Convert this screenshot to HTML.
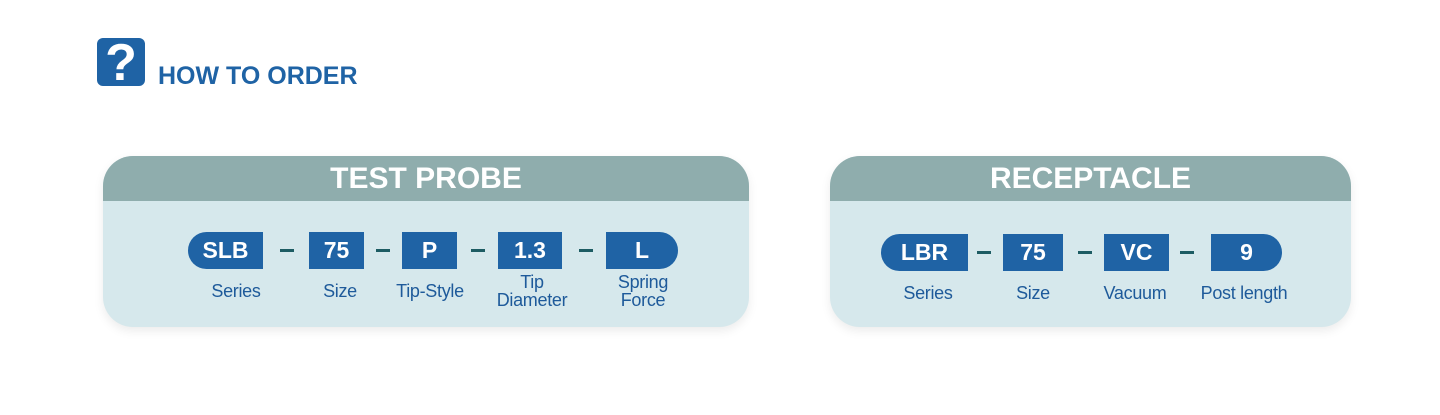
<!DOCTYPE html>
<html><head><meta charset="utf-8"><style>
body{margin:0;width:1440px;height:415px;background:#fff;position:relative;overflow:hidden;font-family:"Liberation Sans",sans-serif}
.a{position:absolute}
.card{position:absolute;border-radius:30px;background:#d6e8ec;overflow:hidden;box-shadow:0 4px 10px rgba(0,0,0,.08)}
.hd{position:absolute;left:0;right:0;top:0;height:45px;background:#8fadad;color:#fff;font-weight:bold;font-size:30px;text-align:center;line-height:46px}
.b{position:absolute;background:#1f63a5;color:#fff;font-size:23px;font-weight:bold;text-align:center;line-height:37px;height:37px}
.d{position:absolute;height:3px;width:14px;background:#1d5c63}
.l{position:absolute;color:#1e5a9a;font-size:18px;text-align:center;line-height:18px;width:120px;letter-spacing:-0.3px}
</style></head><body>
<div class="a" style="left:97px;top:38px;width:48px;height:48px;background:#1f63a5;border-radius:6px;color:#fff;font-weight:bold;font-size:52px;line-height:50px;text-align:center">?</div>
<div class="a" style="left:158px;top:62px;color:#1f63a5;font-weight:bold;font-size:25px;line-height:28px">HOW TO ORDER</div>

<div class="card" style="left:103px;top:156px;width:646px;height:171px"><div class="hd">TEST PROBE</div></div>
<div class="b" style="left:188px;top:232px;width:75px;border-radius:19px 0 0 19px">SLB</div>
<div class="d" style="left:280px;top:249px"></div>
<div class="b" style="left:309px;top:232px;width:55px">75</div>
<div class="d" style="left:376px;top:249px"></div>
<div class="b" style="left:402px;top:232px;width:55px">P</div>
<div class="d" style="left:471px;top:249px"></div>
<div class="b" style="left:498px;top:232px;width:64px">1.3</div>
<div class="d" style="left:579px;top:249px"></div>
<div class="b" style="left:606px;top:232px;width:72px;border-radius:0 19px 19px 0">L</div>
<div class="l" style="left:176px;top:282px">Series</div>
<div class="l" style="left:280px;top:282px">Size</div>
<div class="l" style="left:370px;top:282px">Tip-Style</div>
<div class="l" style="left:472px;top:273px">Tip<br>Diameter</div>
<div class="l" style="left:583px;top:273px">Spring<br>Force</div>

<div class="card" style="left:830px;top:156px;width:521px;height:171px"><div class="hd">RECEPTACLE</div></div>
<div class="b" style="left:881px;top:234px;width:87px;border-radius:19px 0 0 19px">LBR</div>
<div class="d" style="left:977px;top:251px"></div>
<div class="b" style="left:1003px;top:234px;width:60px">75</div>
<div class="d" style="left:1078px;top:251px"></div>
<div class="b" style="left:1104px;top:234px;width:65px">VC</div>
<div class="d" style="left:1180px;top:251px"></div>
<div class="b" style="left:1211px;top:234px;width:71px;border-radius:0 19px 19px 0">9</div>
<div class="l" style="left:868px;top:284px">Series</div>
<div class="l" style="left:973px;top:284px">Size</div>
<div class="l" style="left:1075px;top:284px">Vacuum</div>
<div class="l" style="left:1184px;top:284px">Post length</div>
</body></html>
